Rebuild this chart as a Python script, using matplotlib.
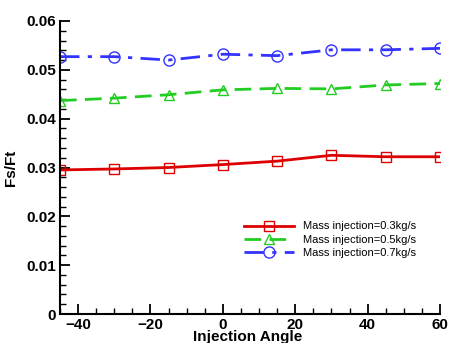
import matplotlib
matplotlib.use("Agg")
import matplotlib.pyplot as plt
from matplotlib.ticker import MultipleLocator

# Data
angle = [-45, -30, -15, 0, 15, 30, 45, 60]
fs_03 = [0.0295, 0.0297, 0.0300, 0.0306, 0.0313, 0.0325, 0.0322, 0.0322]
fs_05 = [0.0437, 0.0442, 0.0449, 0.0459, 0.0462, 0.0461, 0.0469, 0.0472]
fs_07 = [0.0527, 0.0527, 0.0520, 0.0532, 0.0529, 0.0541, 0.0541, 0.0544]
labels = ["Mass injection=0.3kg/s", "Mass injection=0.5kg/s", "Mass injection=0.7kg/s"]

plt.rcParams['font.family'] = ['Liberation Sans', 'DejaVu Sans']

fig = plt.figure(figsize=(4.49, 3.43), dpi=100)
ax = fig.add_axes([60/449, 29/343, 380/449, 293/343])

ax.plot(angle, fs_03, color="#dd0000", ls="-", lw=2, marker="s", ms=6.5,
        mfc="none", mec="#dd0000", mew=1, label=labels[0])
ax.plot(angle, fs_05, color="#22cc22", ls=(0, (6, 3)), lw=2, marker="^", ms=7.5,
        mfc="none", mec="#22cc22", mew=1, label=labels[1])
ax.plot(angle, fs_07, color="#3333ff", ls=(0, (7, 3, 1.5, 3)), lw=2, marker="o", ms=8,
        mfc="none", mec="#3333ff", mew=1, label=labels[2])

ax.set_xlim(-45, 60)
ax.set_ylim(0, 0.06)
ax.xaxis.set_major_locator(MultipleLocator(20))
ax.xaxis.set_minor_locator(MultipleLocator(5))
ax.yaxis.set_major_locator(MultipleLocator(0.01))
ax.yaxis.set_minor_locator(MultipleLocator(0.002))
ax.yaxis.set_major_formatter(plt.FuncFormatter(lambda v, p: "0" if abs(v) < 1e-9 else "%.2f" % v))

for s in ["top", "right"]:
    ax.spines[s].set_visible(False)
for s in ["left", "bottom"]:
    ax.spines[s].set_linewidth(1.5)

ax.tick_params(which="major", direction="in", length=7, width=1.3, labelsize=11, pad=3)
ax.tick_params(which="minor", direction="in", length=4, width=1)
for t in ax.get_xticklabels() + ax.get_yticklabels():
    t.set_fontweight("bold")

ax.set_xlabel("Injection Angle", fontsize=11, fontweight="bold")
ax.xaxis.set_label_coords(0.495, -0.054)
ax.set_ylabel("Fs/Ft", fontsize=11, fontweight="bold", labelpad=6)

leg = ax.legend(loc="upper left", bbox_to_anchor=(0.47, 0.335), frameon=False,
                fontsize=8, handlelength=4.5, handletextpad=0.8, labelspacing=0.3,
                borderpad=0)

fig.savefig("out.png", dpi=100)
